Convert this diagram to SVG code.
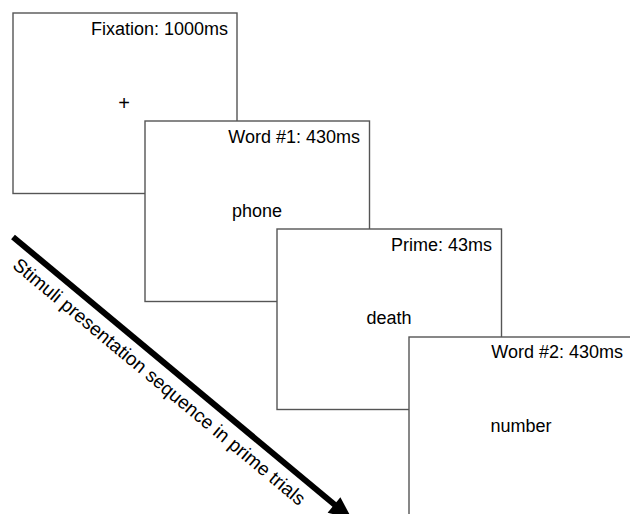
<svg xmlns="http://www.w3.org/2000/svg" width="630" height="514" viewBox="0 0 630 514">
<style>
.box{fill:#fff;stroke:#555;stroke-width:1.4}
.lbl{font-family:"Liberation Sans",Arial,sans-serif;font-size:18px;fill:#000;text-anchor:end}
.ctr{font-family:"Liberation Sans",Arial,sans-serif;font-size:18px;fill:#000;text-anchor:middle}
.seq{font-family:"Liberation Sans",Arial,sans-serif;font-size:19px;fill:#000}
</style>
<rect width="630" height="514" fill="#fff"/>
<g id="fixation">
<rect class="box" x="13" y="13" width="224" height="180.5"/>
<text class="lbl" x="228" y="35">Fixation: 1000ms</text>
<text class="ctr" x="124" y="110" style="font-size:20px">+</text>
</g>
<g id="word1">
<rect class="box" x="145" y="121" width="224.5" height="180.5"/>
<text class="lbl" x="360" y="143">Word #1: 430ms</text>
<text class="ctr" x="257" y="217">phone</text>
</g>
<g id="prime">
<rect class="box" x="277" y="229" width="224.5" height="180.5"/>
<text class="lbl" x="492" y="251">Prime: 43ms</text>
<text class="ctr" x="389" y="324">death</text>
</g>
<g id="word2">
<rect class="box" x="409" y="337" width="224.5" height="180.5"/>
<text class="lbl" x="623" y="358">Word #2: 430ms</text>
<text class="ctr" x="521" y="432">number</text>
</g>
<g id="connectors">
<line x1="13" y1="237" x2="335" y2="505" stroke="#000" stroke-width="6"/>
<polygon points="352,519 327.6,512.7 340.4,497.3" fill="#000"/>
<text class="seq" transform="translate(13,237) rotate(39.8)" x="18" y="24" textLength="374" lengthAdjust="spacing">Stimuli presentation sequence in prime trials</text>
</g>
</svg>
